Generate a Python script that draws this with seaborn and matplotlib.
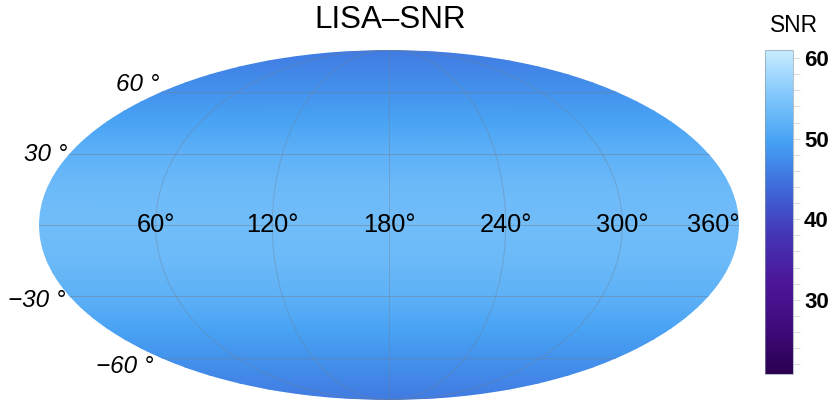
import numpy as np
import matplotlib
matplotlib.use('Agg')
import matplotlib.pyplot as plt
import seaborn as sns

# SNR, one value per latitude band (the map barely changes with longitude)
lat_deg = [-90, -75, -60, -45, -30, -15, 0, 15, 30, 45, 60, 75, 90]
snr_by_lat = [45.6, 46.6, 48.0, 50.0, 52.0, 53.3, 53.8, 53.4, 52.0, 50.0, 48.0, 46.6, 45.6]

# colorbar stops
cbar_values = [20.8, 26, 30, 32, 38, 42, 46, 50, 55, 61]
cbar_colors = ['#2b0050', '#3c0a78', '#4a0d8f', '#4c1598', '#4535b5', '#3e55d0',
               '#4080e5', '#45a5f5', '#7cc4fb', '#c8ecff']
cbar_ticks = [30, 40, 50, 60]

lon_labels = ['60°', '120°', '180°', '240°', '300°', '360°']
lon_label_pos = [60, 120, 180, 240, 300, 360]
lat_labels = ['60 °', '30 °', '−30 °', '−60 °']
lat_label_pos = [60, 30, -30, -60]
lat_label_offset = [(-3, 7), (-1, 0), (-3, -5), (-9, -8)]

sns.set_theme(style='white')
plt.rcParams['font.family'] = ['Liberation Sans', 'DejaVu Sans']

vmin, vmax = cbar_values[0], cbar_values[-1]
stops = [(v - vmin) / (vmax - vmin) for v in cbar_values]
# blend_palette spaces colours evenly, so sample it on a regular grid of the value range
n_even = 8
even_pos = np.linspace(0, 1, n_even)
rgb = np.array([matplotlib.colors.to_rgb(c) for c in cbar_colors])
even_colors = [tuple(np.interp(p, stops, rgb[:, i]) for i in range(3)) for p in even_pos]
cmap = sns.blend_palette(even_colors, n_colors=256, as_cmap=True)

fig = plt.figure(figsize=(8.3, 4.15), dpi=100)
W, H = 830, 415
ax = fig.add_axes([39 / W, (H - 400) / H, 700 / W, 350 / H], projection='mollweide')

# rows are straight in this projection, so two very wide columns are enough; the ellipse clips them
lon_grid = np.radians([-600.0, 600.0])
lat_grid = np.radians(lat_deg)
Z = np.column_stack([snr_by_lat, snr_by_lat])
mesh = ax.pcolormesh(lon_grid, lat_grid, Z, shading='gouraud', cmap=cmap, vmin=vmin, vmax=vmax)

ax.set_longitude_grid(60)
ax.set_latitude_grid(30)
ax.set_longitude_grid_ends(90)
ax.set_axisbelow(False)
ax.xaxis.grid(True, color='#6f7f8f', linewidth=0.7, alpha=0.4)
ax.yaxis.grid(True, color='#6f7f8f', linewidth=0.7, alpha=0.5)
ax.set_xticklabels([])
ax.set_yticklabels([])
ax.spines['geo'].set_visible(False)

for lab, lon in zip(lon_labels, lon_label_pos):
    ha = 'right' if lon == 360 else 'center'
    ax.text(np.radians(lon - 180), 0, lab, ha=ha, va='center', fontsize=18.3, color='black',
            clip_on=False)

for lab, lat, off in zip(lat_labels, lat_label_pos, lat_label_offset):
    ax.annotate(lab, xy=(-np.pi, np.radians(lat)), xytext=off, textcoords='offset pixels',
                ha='right', va='center', fontsize=17.5, style='italic', color='black',
                annotation_clip=False)

fig.text(390 / W, (H - 20) / H, 'LISA–SNR', ha='center', va='center', fontsize=22.6, color='black')
fig.text(794 / W, (H - 26) / H, 'SNR', ha='center', va='center', fontsize=16.4, color='black')

cax = fig.add_axes([765 / W, (H - 374) / H, 28 / W, 324 / H])
cbar = fig.colorbar(mesh, cax=cax)
cbar.set_ticks(cbar_ticks)
cbar.set_ticks(np.arange(22, 61, 2), minor=True)
cax.tick_params(which='both', direction='out', length=5, width=0.8, color='#dddddd',
                right=True, left=False)
cax.tick_params(which='major', labelsize=16, pad=3)
for t in cax.get_yticklabels():
    t.set_fontweight('bold')
    t.set_color('black')
cbar.outline.set_edgecolor('#8a9aa8')
cbar.outline.set_alpha(0.6)
cbar.outline.set_linewidth(0.8)

plt.savefig('out.png', dpi=100)
plt.close()
